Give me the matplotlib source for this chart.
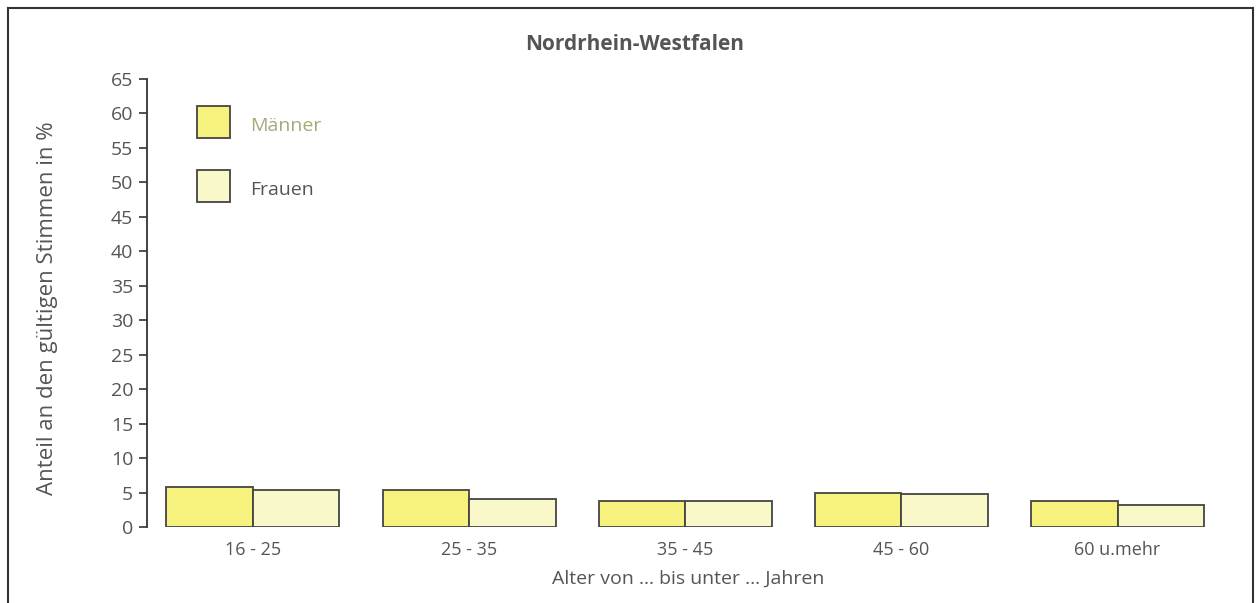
# Nordrhein-Westfalen: Stimmenanteil nach Alter und Geschlecht
import matplotlib.pyplot as plt
import numpy as np
from matplotlib.patches import Rectangle

plt.rcParams['font.family'] = ['Open Sans', 'DejaVu Sans']

# Daten
altersgruppen = ["16 - 25", "25 - 35", "35 - 45", "45 - 60", "60 u.mehr"]
maenner = [5.8, 5.3, 3.8, 4.9, 3.7]
frauen = [5.3, 4.0, 3.8, 4.8, 3.2]

farbe_m = "#f7f27e"
farbe_f = "#f8f8c8"
grau = "#555555"

fig = plt.figure(figsize=(12.57, 6.03), dpi=100)
ax = fig.add_axes([147/1257, 76/603, 1083/1257, 448/603])

x = np.arange(len(altersgruppen))
breite = 0.4
ax.bar(x - breite/2, maenner, breite, color=farbe_m, edgecolor="#444444", linewidth=1.3)
ax.bar(x + breite/2, frauen, breite, color=farbe_f, edgecolor="#444444", linewidth=1.3)

ax.set_xlim(-0.49, 4.52)
ax.set_ylim(0, 65)
ax.set_yticks(range(0, 66, 5))
ax.set_xticks(x)
ax.set_xticklabels(altersgruppen)

for s in ["top", "right", "bottom"]:
    ax.spines[s].set_visible(False)
ax.spines["left"].set_color("#333333")
ax.spines["left"].set_linewidth(1.3)
ax.tick_params(axis="y", direction="out", length=6, width=1.2, color="#333333",
               labelsize=14, labelcolor=grau, pad=4)
ax.tick_params(axis="x", length=0, labelsize=13, labelcolor=grau, pad=10)

ax.set_xlabel("Alter von ... bis unter ... Jahren", fontsize=14, color=grau, labelpad=8)
fig.text(48/1257, 1 - 308/603, "Anteil an den gültigen Stimmen in %", rotation=90,
         fontsize=16, color=grau, ha="center", va="center")
fig.text(635/1257, 1 - 45/603, "Nordrhein-Westfalen", fontsize=15, fontweight="bold",
         color=grau, ha="center", va="center")

# Legende
for y0, farbe, text, tfarbe in [(106, farbe_m, "Männer", "#a8a878"),
                                 (170, farbe_f, "Frauen", grau)]:
    fig.patches.append(Rectangle((197/1257, 1 - (y0 + 32)/603), 33/1257, 32/603,
                                 transform=fig.transFigure, facecolor=farbe,
                                 edgecolor="#444444", linewidth=1.3))
    fig.text(250/1257, 1 - (y0 + 20)/603, text, fontsize=14, color=tfarbe,
             ha="left", va="center")

# Rahmen
fig.add_artist(plt.Line2D([8/1257, 1253/1257], [1 - 8/603, 1 - 8/603],
                          transform=fig.transFigure, color="#333333", linewidth=1.5))
fig.add_artist(plt.Line2D([8/1257, 8/1257], [0, 1 - 8/603],
                          transform=fig.transFigure, color="#333333", linewidth=1.5))
fig.add_artist(plt.Line2D([1253/1257, 1253/1257], [0, 1 - 8/603],
                          transform=fig.transFigure, color="#333333", linewidth=1.5))

fig.savefig("out.png", dpi=100)
